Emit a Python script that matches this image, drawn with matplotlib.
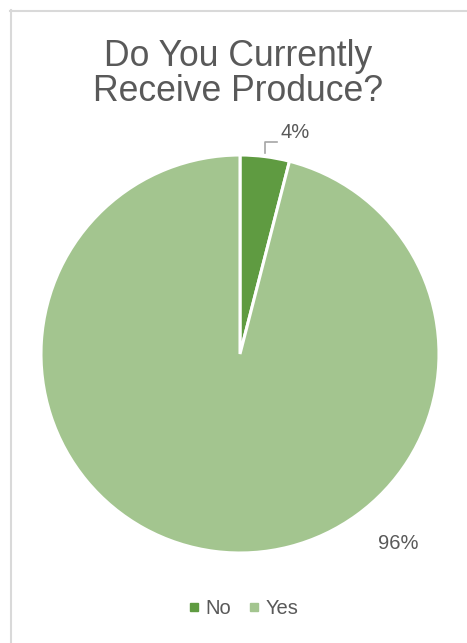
import numpy as np
import matplotlib.pyplot as plt
from matplotlib.lines import Line2D

plt.rcParams['font.family'] = ['Liberation Sans', 'DejaVu Sans']

# data
labels = ["No", "Yes"]
shares = [4, 96]
colors = ["#5F9B41", "#A3C58F"]
title = "Do You Currently\nReceive Produce?"
text_gray = "#595959"

fig = plt.figure(figsize=(4.67, 6.43), dpi=100)
fig.patch.set_facecolor("white")

# chart border (only top/left edges visible in the crop)
fig.add_artist(Line2D([10 / 467, 1.0], [1 - 10.5 / 643] * 2, color="#D9D9D9", lw=1.5))
fig.add_artist(Line2D([10.5 / 467] * 2, [0, 1 - 10 / 643], color="#D9D9D9", lw=1.5))

fig.text(238 / 467, 1 - 74 / 643, title, ha="center", va="center", fontsize=25.6,
         color=text_gray, linespacing=1.0)

ax = fig.add_axes([(240 - 199) / 467, (643 - 553) / 643, 398 / 467, 398 / 643])
wedges, _ = ax.pie(shares, colors=colors, startangle=90, counterclock=False,
                   wedgeprops=dict(edgecolor="white", linewidth=2.2))
ax.set_xlim(-1, 1)
ax.set_ylim(-1, 1)
ax.set_aspect("equal")
ax.axis("off")

# 4% label with elbow leader line
w = wedges[0]
mid = np.deg2rad((w.theta1 + w.theta2) / 2)
x0, y0 = np.cos(mid) * 1.02, np.sin(mid) * 1.02
ax.plot([x0, x0, x0 + 0.06], [y0, 1.065, 1.065], color="#A6A6A6", lw=1.2, clip_on=False)
ax.text(x0 + 0.075, 1.065, f"{shares[0]}%", ha="left", va="bottom", fontsize=14.5,
        color=text_gray)

# 96% label
ax.text(0.795, -0.95, f"{shares[1]}%", ha="center", va="center", fontsize=14.5,
        color=text_gray)

handles = [Line2D([], [], marker="s", ls="", color=c, markersize=5.5) for c in colors]
leg = fig.legend(handles, labels, loc="center", bbox_to_anchor=(241 / 467, 1 - 609 / 643),
                 ncol=2, frameon=False, fontsize=14.5, handletextpad=0.1,
                 columnspacing=0.6, handlelength=1.0)
for t in leg.get_texts():
    t.set_color(text_gray)

fig.savefig("out.png", dpi=100, facecolor="white")
